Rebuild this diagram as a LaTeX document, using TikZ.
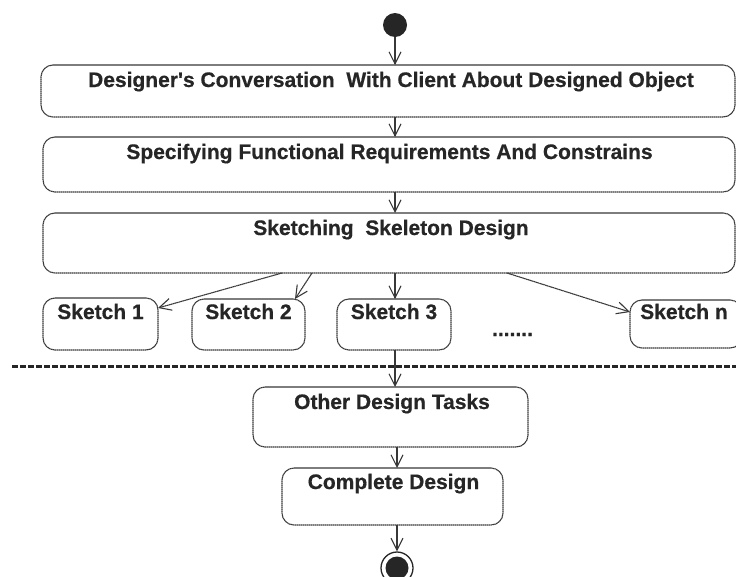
\documentclass[tikz,border=0pt]{standalone}
\usepackage{fontspec}
\newfontfamily\labfont{Liberation Sans Bold}[FakeBold=0.5]
\usetikzlibrary{arrows.meta,calc}
\definecolor{ink}{HTML}{262626}
\definecolor{edge}{HTML}{383838}

\begin{document}
\begin{tikzpicture}[x=1pt,y=-1pt,
  box/.style={draw=edge, line width=1.1pt, dash pattern=on 1.6pt off 0.4pt,
              rounded corners=12pt, inner sep=0pt, outer sep=0pt, anchor=north west},
  lab/.style={font=\labfont\fontsize{21pt}{24pt}\selectfont,
              text=ink, anchor=base, inner sep=0pt},
  flow/.style={draw=edge, line width=1.1pt, dash pattern=on 1.6pt off 0.4pt,
               -{Straight Barb[length=12pt,width=12pt,line width=1.1pt]}},
  sep/.style={draw=ink, line width=3pt, dash pattern=on 6pt off 2pt},
]
\fill[white] (0,0) rectangle (736,576);
\useasboundingbox (0,0) rectangle (736,576);

% start state
\node[circle, fill=ink, minimum size=24pt, inner sep=0pt] (start) at (395,25) {};

% main activities
\node[box, minimum width=694pt, minimum height=52pt] (b1) at (41,65) {};
\node[lab] (t1) at (391,87) {Designer's Conversation\ \ With Client About Designed Object};

\node[box, minimum width=692pt, minimum height=55pt] (b2) at (43,137) {};
\node[lab] (t2) at (389.5,159) {Specifying Functional Requirements And Constrains};

\node[box, minimum width=692pt, minimum height=60pt] (b3) at (43,213) {};
\node[lab] (t3) at (391,235) {Sketching\ \ Skeleton Design};

% alternative sketches
\node[box, minimum width=115pt, minimum height=52pt] (sk1) at (43,298) {};
\node[lab] (ts1) at (100.5,319) {Sketch 1};
\node[box, minimum width=113pt, minimum height=51pt] (sk2) at (192,299) {};
\node[lab] (ts2) at (248.5,319) {Sketch 2};
\node[box, minimum width=114pt, minimum height=51pt] (sk3) at (337,299) {};
\node[lab] (ts3) at (394,319) {Sketch 3};
\node[box, minimum width=112pt, minimum height=48pt] (skn) at (630,300) {};
\node[lab] (tsn) at (684,319) {Sketch n};
\node[lab] (dots) at (512.5,336) {.......};

% separator
\coordinate (sepL) at (12,366);
\coordinate (sepR) at (736,366);
\draw[sep] (sepL) -- (sepR);

% later activities
\node[box, minimum width=275pt, minimum height=60pt] (other) at (253,387) {};
\node[lab] (t4) at (392,409) {Other Design Tasks};
\node[box, minimum width=221pt, minimum height=57pt] (comp) at (282,468) {};
\node[lab] (t5) at (393.5,489) {Complete Design};

% final state
\node[circle, draw=ink, line width=1.3pt, minimum size=32pt, inner sep=0pt] (stop) at (397,568) {};
\node[circle, fill=ink, minimum size=23pt, inner sep=0pt] (stopdot) at (stop) {};

% transitions
\draw[flow] (start.south) -- (b1.north -| start);
\draw[flow] (b1.south -| start) -- (b2.north -| start);
\draw[flow] (b2.south -| start) -- (b3.north -| start);
\draw[flow] ([xshift=-107pt]b3.south) -- ([yshift=-10pt]sk1.north east);
\draw[flow] ([xshift=-77pt]b3.south) -- ([xshift=-10pt]sk2.north east);
\draw[flow] (b3.south -| start) -- (sk3.north -| start);
\draw[flow] ([xshift=118pt]b3.south) -- ([yshift=-12pt]skn.north west);
\draw[flow] (sk3.south -| start) -- (other.north -| start);
\draw[flow] (other.south -| stop) -- (comp.north -| stop);
\draw[flow] (comp.south -| stop) -- (stop.north);
\end{tikzpicture}
\end{document}
